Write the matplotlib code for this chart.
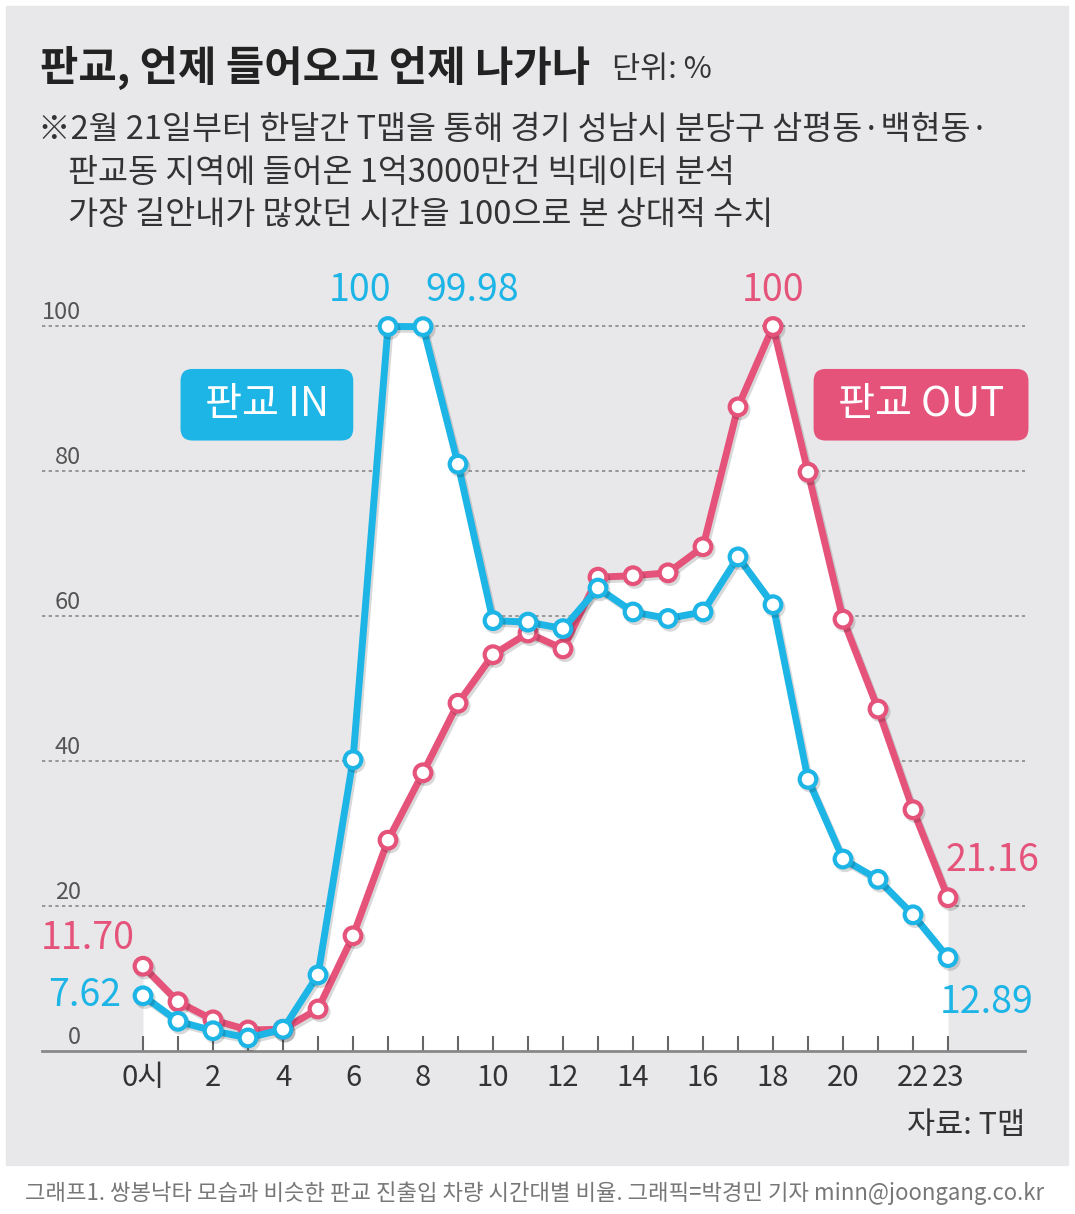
import matplotlib.pyplot as plt
import matplotlib.patheffects as pe
from matplotlib.patches import Rectangle
from matplotlib.transforms import ScaledTranslation
import numpy as np

plt.rcParams['font.family'] = ['Noto Sans CJK KR', 'DejaVu Sans']

''' Data '''
hours = list(range(24))
pangyo_in = [7.62, 4.1, 2.8, 1.8, 3.0, 10.5, 40.2, 100, 99.98, 81.0, 59.4, 59.2,
             58.3, 63.9, 60.6, 59.7, 60.6, 68.2, 61.6, 37.5, 26.5, 23.7, 18.8, 12.89]
pangyo_out = [11.70, 6.8, 4.3, 2.9, 3.0, 5.8, 15.9, 29.1, 38.4, 48.0, 54.7, 57.7,
              55.5, 65.4, 65.6, 66.0, 69.6, 88.9, 100, 79.9, 59.6, 47.2, 33.3, 21.16]
xtick_labels = ['0시', '', '2', '', '4', '', '6', '', '8', '', '10', '', '12', '',
                '14', '', '16', '', '18', '', '20', '', '22', '23']
yticks = [0, 20, 40, 60, 80, 100]

BLUE = '#1db4e6'
PINK = '#e5527a'
PANEL = '#e8e8ea'

fig = plt.figure(figsize=(10.75, 12.14), dpi=100)
W, H = 1075, 1214

# grey panel behind everything
fig.patches.append(Rectangle((6 / W, 1 - 1165 / H), 1062 / W, 1159 / H,
                             transform=fig.transFigure, color=PANEL, zorder=-10))

# title and notes
fig.text(40 / W, 1 - 68 / H, '판교, 언제 들어오고 언제 나가나', fontsize=30,
         fontweight='bold', color='#222222', va='center')
fig.text(612 / W, 1 - 70 / H, '단위: %', fontsize=22, color='#333333', va='center')
notes = ['※2월 21일부터 한달간 T맵을 통해 경기 성남시 분당구 삼평동·백현동·',
         '판교동 지역에 들어온 1억3000만건 빅데이터 분석',
         '가장 길안내가 많았던 시간을 100으로 본 상대적 수치']
fig.text(38 / W, 1 - 130 / H, notes[0], fontsize=23.5, color='#333333', va='center')
fig.text(68 / W, 1 - 173 / H, notes[1], fontsize=23.5, color='#333333', va='center')
fig.text(68 / W, 1 - 215 / H, notes[2], fontsize=23.5, color='#333333', va='center')

# plot area: baseline y=1051 px, 7.245 px per unit, hour 0 at x=143, 35 px per hour
ax = fig.add_axes([42 / W, 163 / H, 983 / W, 110 * 7.245 / H])
ax.set_facecolor('none')
ax.set_xlim((42 - 143) / 35, (1025 - 143) / 35)
ax.set_ylim(0, 110)
for s in ['top', 'right', 'left']:
    ax.spines[s].set_visible(False)
ax.spines['bottom'].set_color('#888888')
ax.spines['bottom'].set_linewidth(2)

# white area under the curves
top = np.maximum(pangyo_in, pangyo_out)
ax.fill_between(hours, 0, top, color='white', zorder=1, lw=0)

# dotted gridlines
for yv in yticks[1:]:
    ax.axhline(yv, color='#888888', ls=(0, (2, 2)), lw=1.2, zorder=0.5)

shadow = [pe.SimpleLineShadow(offset=(1.5, -2), alpha=0.15, shadow_color='black'), pe.Normal()]
ax.plot(hours, pangyo_out, color=PINK, lw=5, marker='o', ms=12, mfc='white',
        mec=PINK, mew=3, zorder=3, clip_on=False, path_effects=shadow)
ax.plot(hours, pangyo_in, color=BLUE, lw=5, marker='o', ms=12, mfc='white',
        mec=BLUE, mew=3, zorder=4, clip_on=False, path_effects=shadow)

# ticks
ax.set_xticks(hours)
ax.set_xticklabels(xtick_labels, fontsize=21, color='#333333')
ax.tick_params(axis='x', direction='in', length=11, width=1.5, color='#666666', pad=9)
ax.set_yticks(yticks)
ax.set_yticklabels([str(v) for v in yticks], fontsize=17, color='#555555', ha='right')
ax.tick_params(axis='y', length=0, pad=-28)
for lab in ax.get_yticklabels():
    lab.set_transform(lab.get_transform() + ScaledTranslation(0, 0.16, fig.dpi_scale_trans))

# value labels
lbl = dict(fontsize=27, ha='center', va='center', zorder=6, clip_on=False)
ax.text(6.2, 105, '100', color=BLUE, **lbl)
ax.text(9.4, 105, '99.98', color=BLUE, **lbl)
ax.text(18, 105, '100', color=PINK, **lbl)
ax.text(-1.57, 15.5, '11.70', color=PINK, **lbl)
ax.text(-1.67, 7.6, '7.62', color=BLUE, **lbl)
ax.text(24.26, 26.3, '21.16', color=PINK, **lbl)
ax.text(24.1, 6.7, '12.89', color=BLUE, **lbl)

# series labels
box = 'round,pad=0.38,rounding_size=0.3'
ax.text(3.54, 89.2, ' 판교 IN ', fontsize=29, color='white', ha='center', va='center',
        zorder=6, bbox=dict(boxstyle=box, fc=BLUE, ec='none'))
ax.text(22.23, 89.2, ' 판교 OUT ', fontsize=29, color='white', ha='center', va='center',
        zorder=6, bbox=dict(boxstyle=box, fc=PINK, ec='none'))

fig.text(1025 / W, 1 - 1125 / H, '자료: T맵', fontsize=22, color='#333333',
         ha='right', va='center')
fig.text(25 / W, 1 - 1193 / H,
         '그래프1. 쌍봉낙타 모습과 비슷한 판교 진출입 차량 시간대별 비율. 그래픽=박경민 기자 minn@joongang.co.kr',
         fontsize=16, color='#777777', va='center')

plt.savefig('out.png', dpi=100)
